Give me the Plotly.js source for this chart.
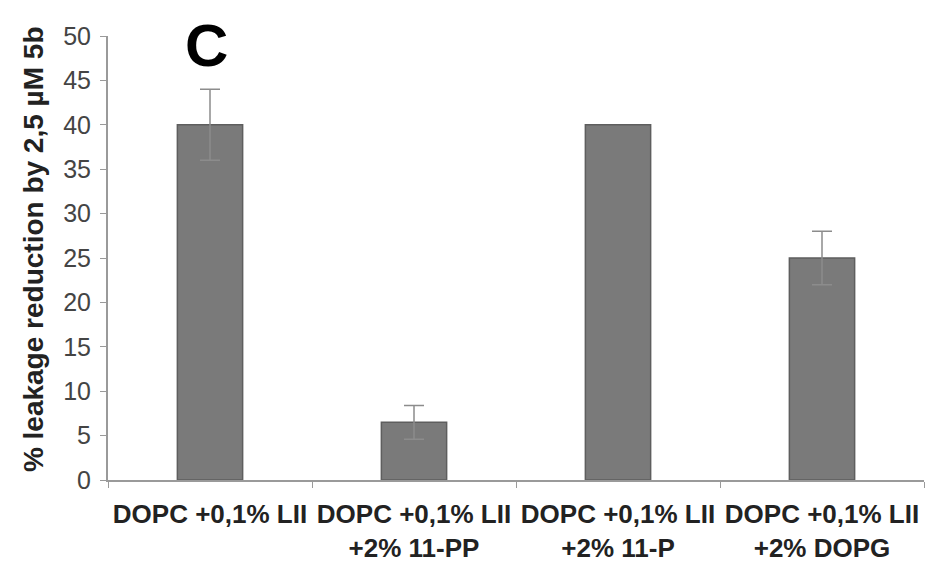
<!DOCTYPE html>
<html>
<head>
<meta charset="utf-8">
<script src="https://cdn.plot.ly/plotly-3.0.1.min.js"></script>
<style>html,body{margin:0;padding:0;background:#fff;}#chart{width:952px;height:572px;}</style>
</head>
<body>
<div id="chart"></div>
<script>
const categories = ["DOPC +0,1% LII", "DOPC +0,1% LII<br>+2% 11-PP", "DOPC +0,1% LII<br>+2% 11-P", "DOPC +0,1% LII<br>+2% DOPG"];
const values = [40, 6.5, 40, 25];
const errors = [4, 1.9, 0, 3];
const yTicks = [0, 5, 10, 15, 20, 25, 30, 35, 40, 45, 50];

const withErr = values.map((v, i) => errors[i] > 0);

const barTrace = {
  type: 'bar',
  x: categories.map(c => '<b>' + c.replace('<br>', '</b><br><b>') + '</b>'),
  y: values,
  width: 0.32,
  marker: {color: '#7a7a7a', line: {color: '#5e5e5e', width: 1.5}}
};

const errTrace = {
  type: 'scatter', mode: 'markers',
  x: barTrace.x.filter((c, i) => withErr[i]),
  y: values.filter((v, i) => withErr[i]),
  marker: {size: 1, opacity: 0},
  error_y: {type: 'data', array: errors.filter((e, i) => withErr[i]), visible: true, color: '#8c8c8c', thickness: 1.5, width: 10}
};

const layout = {
  width: 952, height: 572,
  margin: {l: 108, r: 28, t: 36, b: 92},
  paper_bgcolor: '#fff', plot_bgcolor: '#fff',
  showlegend: false,
  font: {family: 'Liberation Sans, Arial, sans-serif'},
  xaxis: {
    type: 'category',
    showline: true, linecolor: '#9a9a9a', linewidth: 2,
    ticks: 'outside', tickson: 'boundaries', ticklen: 6, tickcolor: '#9a9a9a',
    tickfont: {size: 26, color: '#222'}, ticklabelstandoff: 10,
    showgrid: false, zeroline: false, automargin: false
  },
  yaxis: {
    range: [0, 50],
    tickvals: yTicks,
    showline: true, linecolor: '#9a9a9a', linewidth: 2,
    ticks: 'outside', ticklen: 6, tickcolor: '#9a9a9a',
    tickfont: {size: 25, color: '#444'}, ticklabelstandoff: 4,
    showgrid: false, zeroline: false, automargin: false
  },
  annotations: [
    {text: '<b>% leakage reduction by 2,5 µM 5b</b>', textangle: -90,
     xref: 'paper', yref: 'paper', x: (33 - 108) / 816, y: 0.52, showarrow: false,
     xanchor: 'center', yanchor: 'middle', font: {size: 28, color: '#222'}},
    {text: '<b>C</b>', xref: 'paper', yref: 'paper', x: (206 - 108) / 816, y: (480 - 45) / 444,
     showarrow: false, xanchor: 'center', yanchor: 'middle', font: {size: 60, color: '#000'}}
  ]
};

Plotly.newPlot('chart', [barTrace, errTrace], layout, {displayModeBar: false, staticPlot: true});
</script>
</body>
</html>
